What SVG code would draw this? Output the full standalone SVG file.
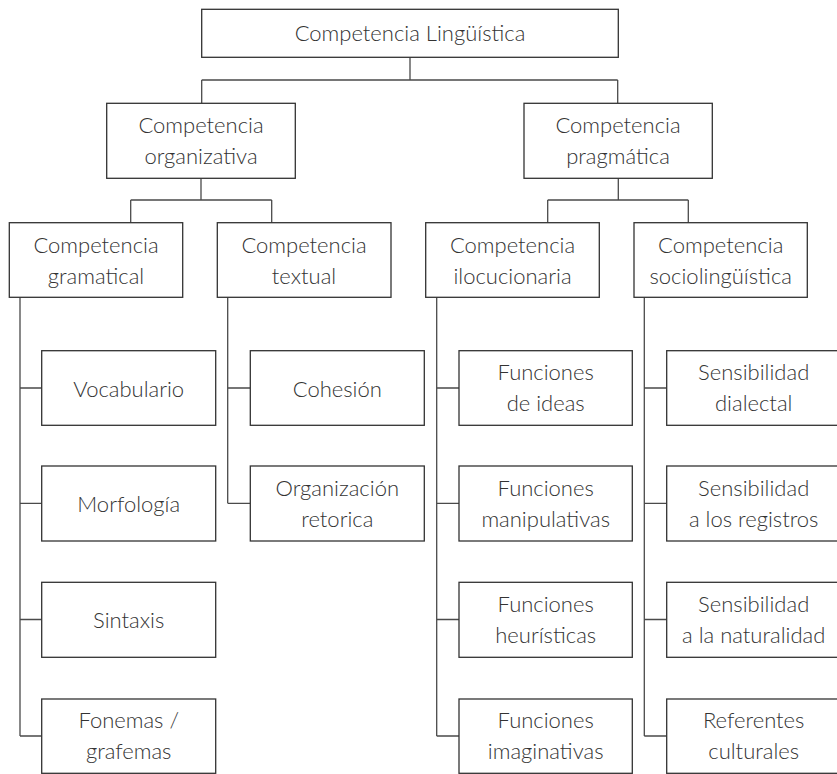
<svg xmlns="http://www.w3.org/2000/svg" width="837" height="774" viewBox="0 0 837 774">
<style>
rect{fill:#fff;stroke:#333;stroke-width:1.3}
.c{fill:none;stroke:#4a4a4a;stroke-width:1.3}
text{font-family:Lato,"Open Sans","Liberation Sans",sans-serif;font-weight:300;font-size:22px;fill:#333;text-anchor:middle}
</style>
<rect x="0" y="0" width="837" height="774" style="stroke:none"/>
<g id="connectors" class="c">
<path class="c" d="M410 57.3V80M201.7 80H617.7M201.7 80V103.3M617.7 80V103.3"/>
<path class="c" d="M201 178.3V200M130.7 200H271.7M130.7 200V222.7M271.7 200V222.7"/>
<path class="c" d="M618.3 178.3V200M547.7 200H688.3M547.7 200V222.7M688.3 200V222.7"/>
<path class="c" d="M20 297.3V736M20 388H41.7M20 503.3H41.7M20 619.5H41.7M20 736H41.7"/>
<path class="c" d="M227.7 297.3V503.3M227.7 388H250.3M227.7 503.3H250.3"/>
<path class="c" d="M436.7 297.3V736M436.7 388H459M436.7 503.3H459M436.7 619.5H459M436.7 736H459"/>
<path class="c" d="M644.3 297.3V736M644.3 388H666.7M644.3 503.3H666.7M644.3 619.5H666.7M644.3 736H666.7"/>
</g>
<g id="n-root"><rect x="201.7" y="9.3" width="416.6" height="48"/><text x="410" y="41">Competencia Lingüística</text></g>
<g id="n-org"><rect x="106.7" y="103.3" width="188.6" height="75"/><text x="201" y="133">Competencia</text><text x="201" y="164">organizativa</text></g>
<g id="n-prag"><rect x="524" y="103.3" width="188.3" height="75"/><text x="618" y="133">Competencia</text><text x="618" y="164">pragmática</text></g>
<g id="n-gram"><rect x="9.3" y="222.7" width="173.4" height="74.6"/><text x="96" y="253">Competencia</text><text x="96" y="284">gramatical</text></g>
<g id="n-text"><rect x="217.3" y="222.7" width="173.7" height="74.6"/><text x="304" y="253">Competencia</text><text x="304" y="284">textual</text></g>
<g id="n-iloc"><rect x="425.7" y="222.7" width="173.6" height="74.6"/><text x="512.5" y="253">Competencia</text><text x="512.5" y="284">ilocucionaria</text></g>
<g id="n-socio"><rect x="634" y="222.7" width="173.3" height="74.6"/><text x="720.7" y="253">Competencia</text><text x="720.7" y="284">sociolingüística</text></g>
<g id="n-vocab"><rect x="41.7" y="350.7" width="174" height="74.6"/><text x="128.7" y="396.5">Vocabulario</text></g>
<g id="n-morf"><rect x="41.7" y="466" width="174" height="75"/><text x="128.7" y="512">Morfología</text></g>
<g id="n-sint"><rect x="41.7" y="582.3" width="174" height="75"/><text x="128.7" y="628">Sintaxis</text></g>
<g id="n-fon"><rect x="41.7" y="699" width="174" height="74.3"/><text x="128.7" y="728">Fonemas /</text><text x="128.7" y="759">grafemas</text></g>
<g id="n-cohe"><rect x="250.3" y="350.7" width="174" height="74.6"/><text x="337.3" y="396.5">Cohesión</text></g>
<g id="n-orgret"><rect x="250.3" y="466" width="174" height="75"/><text x="337.3" y="495.5">Organización</text><text x="337.3" y="526.5">retorica</text></g>
<g id="n-fi"><rect x="459" y="350.7" width="173.3" height="74.6"/><text x="545.7" y="380">Funciones</text><text x="545.7" y="411">de ideas</text></g>
<g id="n-fm"><rect x="459" y="466" width="173.3" height="75"/><text x="545.7" y="495.5">Funciones</text><text x="545.7" y="526.5">manipulativas</text></g>
<g id="n-fh"><rect x="459" y="582.3" width="173.3" height="75"/><text x="545.7" y="611.5">Funciones</text><text x="545.7" y="642.5">heurísticas</text></g>
<g id="n-fim"><rect x="459" y="699" width="173.3" height="74.3"/><text x="545.7" y="728">Funciones</text><text x="545.7" y="759">imaginativas</text></g>
<g id="n-sd"><rect x="666.7" y="350.7" width="174" height="74.6"/><text x="753.7" y="380">Sensibilidad</text><text x="753.7" y="411">dialectal</text></g>
<g id="n-sr"><rect x="666.7" y="466" width="174" height="75"/><text x="753.7" y="495.5">Sensibilidad</text><text x="753.7" y="526.5">a los registros</text></g>
<g id="n-sn"><rect x="666.7" y="582.3" width="174" height="75"/><text x="753.7" y="611.5">Sensibilidad</text><text x="753.7" y="642.5">a la naturalidad</text></g>
<g id="n-rc"><rect x="666.7" y="699" width="174" height="74.3"/><text x="753.7" y="728">Referentes</text><text x="753.7" y="759">culturales</text></g>
</svg>
